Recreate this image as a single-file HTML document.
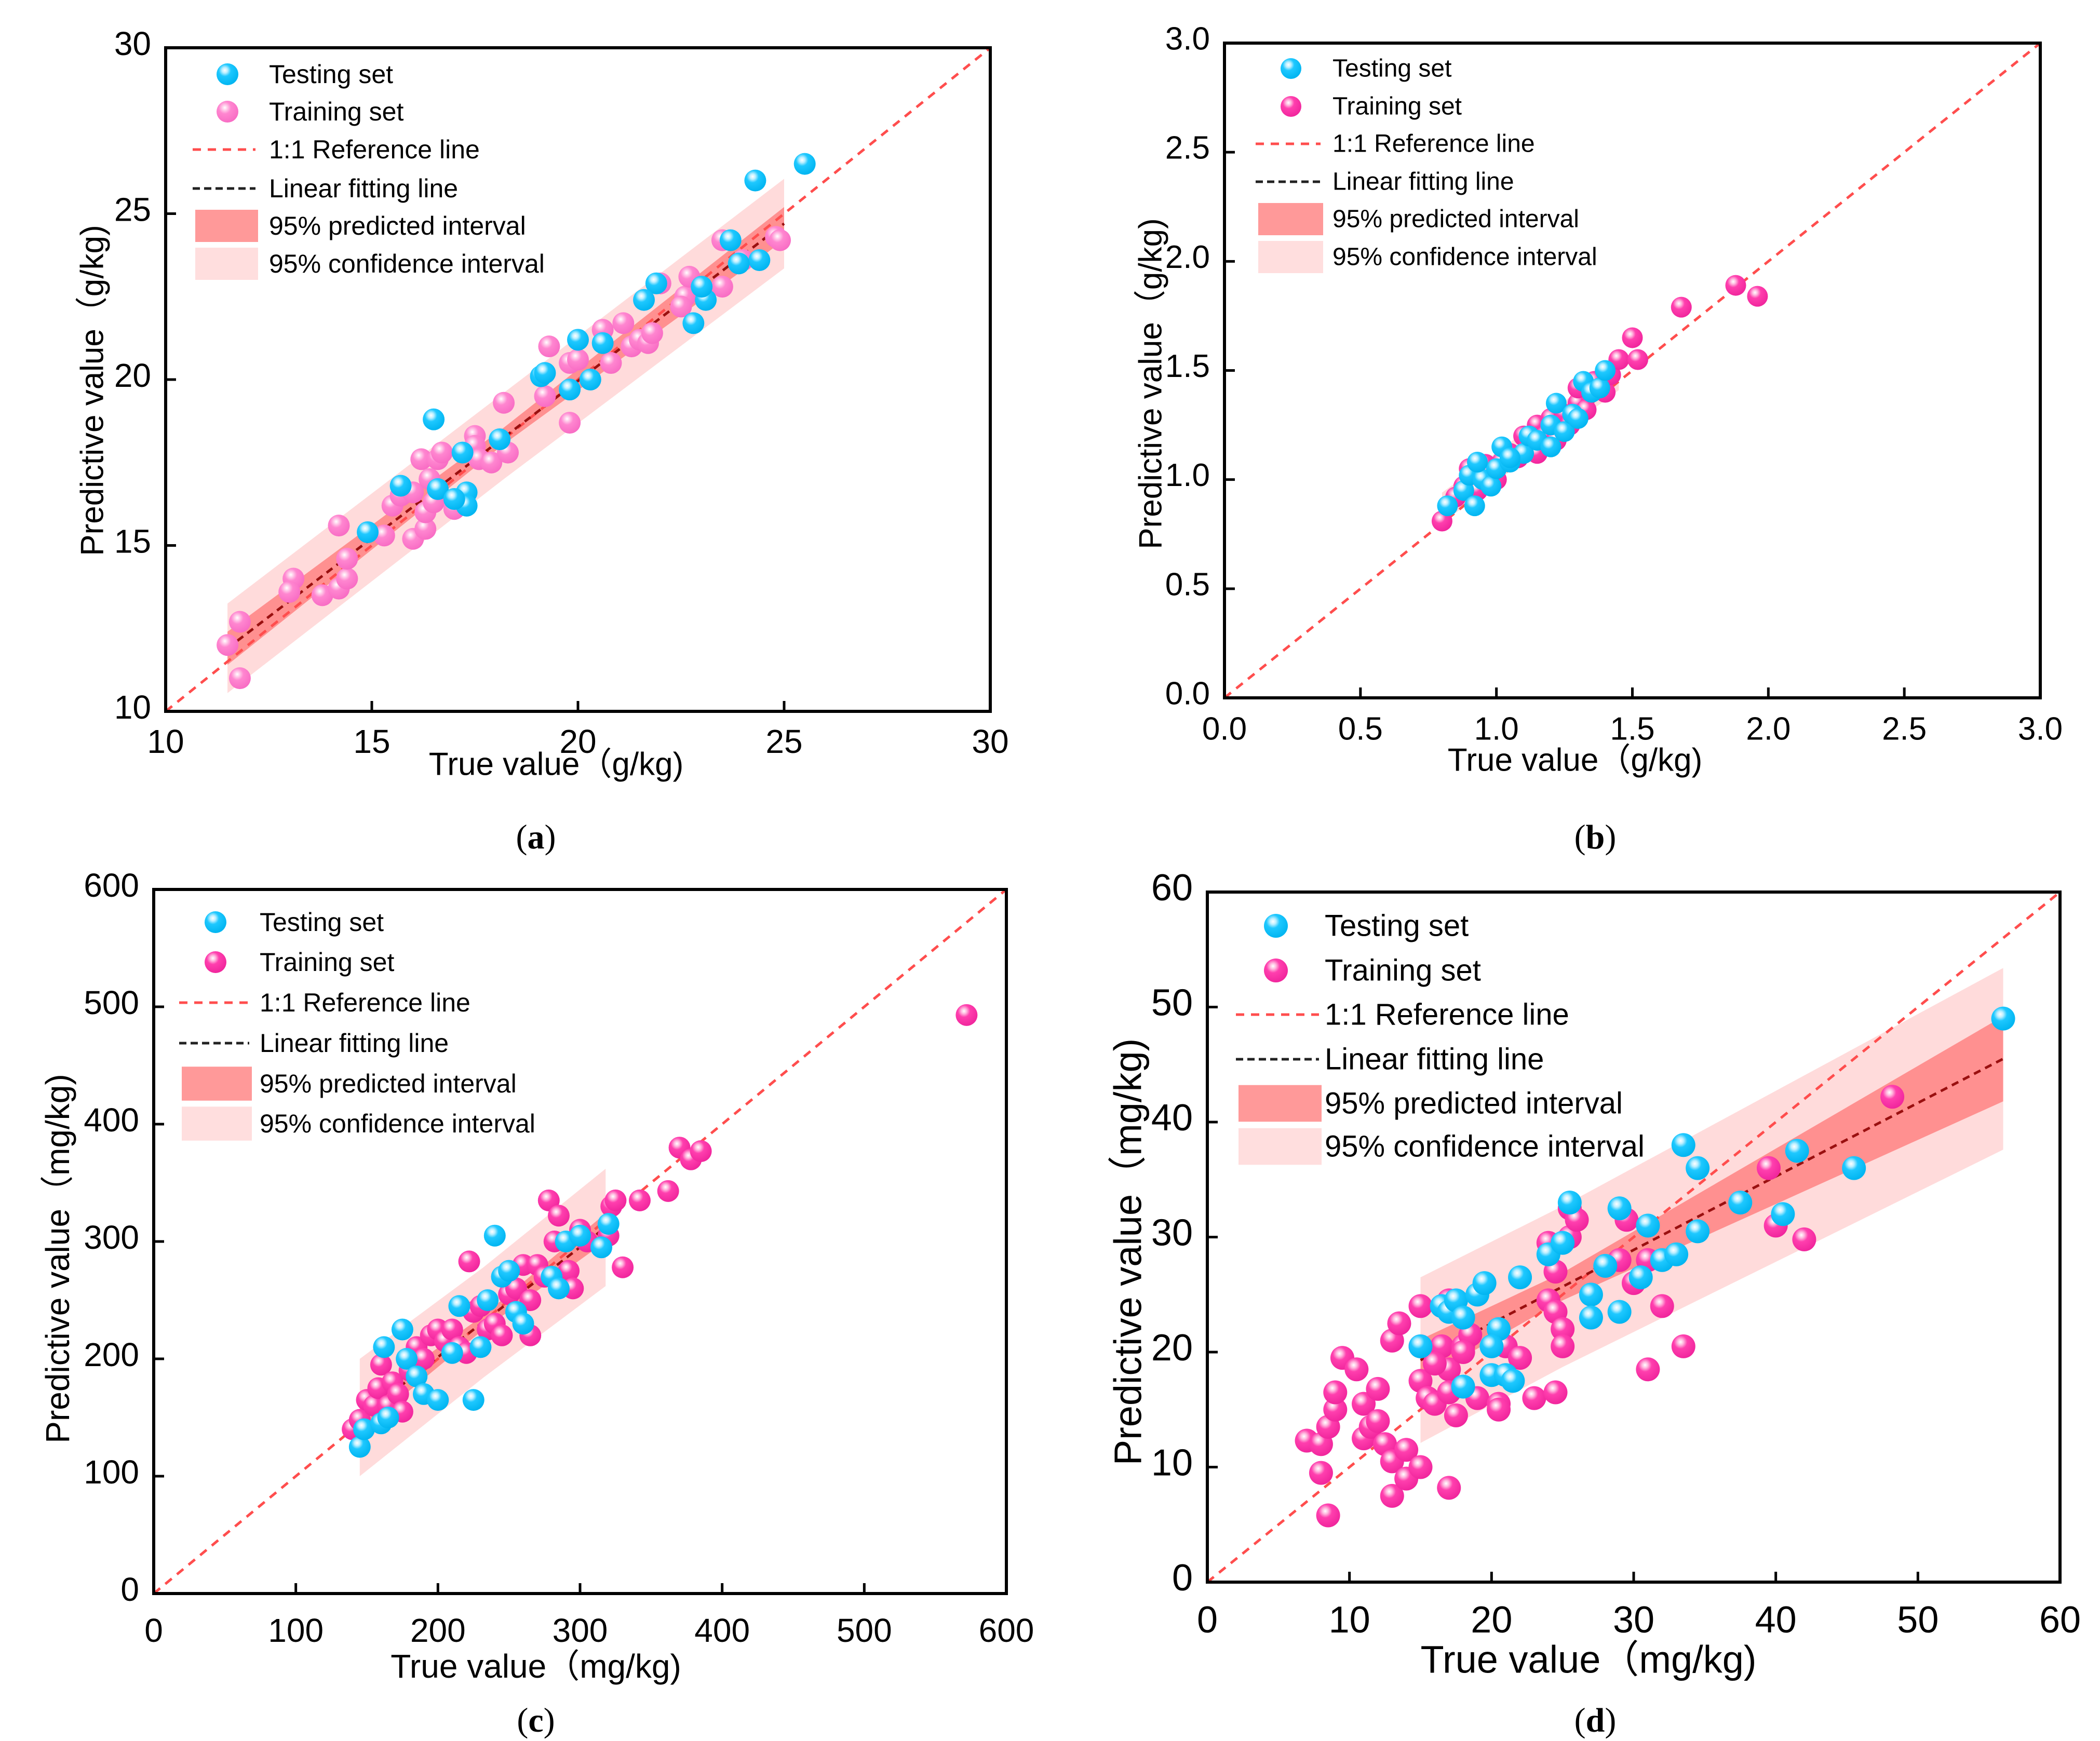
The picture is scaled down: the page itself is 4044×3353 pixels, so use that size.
<!DOCTYPE html>
<html><head><meta charset="utf-8">
<style>
html,body{margin:0;padding:0;background:#fff;}
svg{display:block;font-family:"Liberation Sans","Noto Sans CJK SC",sans-serif;}
</style></head>
<body>
<svg id="fig" width="4044" height="3353" viewBox="0 0 4044 3353" xmlns="http://www.w3.org/2000/svg">
<defs>
<radialGradient id="gBlue" cx="0.38" cy="0.32" r="0.7">
<stop offset="0" stop-color="#ffffff"/><stop offset="0.18" stop-color="#bdefff"/><stop offset="0.4" stop-color="#1ec8ff"/><stop offset="1" stop-color="#00b4f0"/></radialGradient>
<radialGradient id="gPinkL" cx="0.38" cy="0.32" r="0.7">
<stop offset="0" stop-color="#ffffff"/><stop offset="0.18" stop-color="#ffc8e8"/><stop offset="0.4" stop-color="#ff86d0"/><stop offset="1" stop-color="#f86cc4"/></radialGradient>
<radialGradient id="gPink" cx="0.38" cy="0.32" r="0.7">
<stop offset="0" stop-color="#ffffff"/><stop offset="0.18" stop-color="#ffb8de"/><stop offset="0.4" stop-color="#ff3fae"/><stop offset="1" stop-color="#f0259c"/></radialGradient>
</defs>
</svg>
<script>
// ---------- Panel (a) data ----------
const aTicks = [10, 15, 20, 25, 30];
const aTickLabels = ["10", "15", "20", "25", "30"];
const aTest = [[24.3,26.0],[25.5,26.5],[16.5,18.8],[23.7,24.2],[24.4,23.6],[23.9,23.5],[22.8,21.7],[23.1,22.4],[21.9,22.9],[21.6,22.4],[20,21.2],[19.1,20.1],[19.2,20.2],[19.8,19.7],[20.3,20],[18.1,18.2],[17.3,16.6],[17.3,16.2],[17.2,17.8],[15.7,16.8],[14.9,15.4],[16.6,16.7],[20.6,21.1],[23,22.8],[17,16.4]];
const aTrain = [[11.5,12],[11.8,12.7],[11.8,11],[13.1,14],[13,13.6],[13.8,13.5],[14.2,15.6],[14.2,13.7],[14.4,14],[14.4,14.6],[15.3,15.3],[15.5,16.2],[15.7,16.5],[16,16.6],[16.2,17.6],[16.6,17.6],[16.7,17.8],[16,15.2],[16.3,15.5],[16.3,16],[16.5,16.3],[16.4,17],[17,16.1],[17.5,18.3],[17.5,18],[17.6,17.6],[17.9,17.5],[18.2,19.3],[18.3,17.8],[19.2,19.5],[19.3,21],[19.8,18.7],[19.8,20.5],[20,20.6],[20.6,21.5],[20.8,20.5],[21.1,21.7],[21.3,21],[21.5,21.2],[21.7,21.1],[22,22.9],[21.8,21.4],[22.6,22.5],[22.7,23.1],[22.5,22.2],[23.5,24.2],[23.5,22.8],[24,23.6],[24.8,24.3],[24.9,24.2]];
const aBandX = [11.5, 18.2, 25];
const aFitY = [11.9, 18.3, 24.7];
const aInnerHalf = [0.5, 0.25, 0.5];
const aOuterHalf = [1.35, 1.3, 1.35];

// ---------- Panel (b) data ----------
const bTicks = [0, 0.5, 1.0, 1.5, 2.0, 2.5, 3.0];
const bTickLabels = ["0.0", "0.5", "1.0", "1.5", "2.0", "2.5", "3.0"];
const bTest = [[0.82,0.88],[0.88,0.95],[0.9,1.02],[0.92,0.88],[0.95,1.0],[0.98,0.97],[1.0,1.05],[1.02,1.15],[1.05,1.08],[1.1,1.12],[1.12,1.2],[1.15,1.18],[1.2,1.25],[1.2,1.15],[1.22,1.35],[1.25,1.22],[1.28,1.3],[1.3,1.28],[1.32,1.45],[1.35,1.4],[1.38,1.42],[1.4,1.5],[1.05,1.1],[0.93,1.08]];
const bTrain = [[0.8,0.81],[0.85,0.92],[0.88,0.97],[0.9,1.05],[0.93,0.95],[0.96,1.07],[1.0,1.0],[1.02,1.08],[1.05,1.12],[1.08,1.1],[1.1,1.2],[1.12,1.16],[1.15,1.25],[1.18,1.2],[1.2,1.28],[1.22,1.18],[1.25,1.3],[1.27,1.25],[1.3,1.35],[1.3,1.42],[1.33,1.32],[1.36,1.45],[1.4,1.4],[1.42,1.48],[1.45,1.55],[1.5,1.65],[1.52,1.55],[1.68,1.79],[1.88,1.89],[1.96,1.84],[1.15,1.12],[0.98,1.03]];
const bBandX = [0.8, 1.12, 1.45];
const bFitY = [0.87, 1.17, 1.48];
const bInnerHalf = [0.03, 0.015, 0.03];
const bOuterHalf = [0.07, 0.065, 0.07];

// ---------- Panel (c) data ----------
const cTicks = [0, 100, 200, 300, 400, 500, 600];
const cTickLabels = ["0", "100", "200", "300", "400", "500", "600"];
const cTest = [[145,125],[148,140],[160,145],[165,150],[162,210],[175,225],[178,200],[185,185],[190,170],[200,165],[215,245],[225,165],[230,210],[235,250],[240,305],[245,270],[250,275],[255,240],[260,230],[280,270],[285,260],[290,300],[300,305],[315,295],[320,315],[210,205]];
const cTrain = [[140,140],[145,148],[150,165],[155,160],[158,175],[160,195],[165,160],[168,180],[172,170],[175,155],[180,190],[185,210],[190,200],[195,220],[200,225],[205,215],[210,225],[215,210],[220,205],[222,283],[225,240],[230,245],[235,225],[240,230],[245,220],[250,255],[255,260],[260,280],[265,250],[265,220],[270,280],[275,270],[278,335],[282,300],[285,322],[290,265],[292,275],[295,260],[300,310],[305,300],[320,305],[322,330],[325,335],[330,278],[342,335],[362,343],[370,380],[378,370],[385,377],[572,493]];
const cBandX = [145, 232, 318];
const cFitY = [150, 231, 312];
const cInnerHalf = [12, 6, 12];
const cOuterHalf = [50, 47, 50];

// ---------- Panel (d) data ----------
const dTicks = [0, 10, 20, 30, 40, 50, 60];
const dTickLabels = ["0", "10", "20", "30", "40", "50", "60"];
const dTest = [[15,20.5],[16.5,24],[17,23.5],[17.5,24.5],[18,23],[19,25],[19.5,26],[20,18],[20.5,22],[21,18],[21.5,17.5],[22,26.5],[24,28.5],[25,29.5],[25.5,33],[27,25],[27,23],[28,27.5],[29,32.5],[29,23.5],[30.5,26.5],[31,31],[32,28],[33,28.5],[33.5,38],[34.5,36],[34.5,30.5],[37.5,33],[40.5,32],[41.5,37.5],[45.5,36],[56,49],[20,20.5],[18,17]];
const dTrain = [[7,12.3],[8,9.5],[8,12],[8.5,5.8],[8.5,13.5],[9,15],[9,16.5],[9.5,19.5],[10.5,18.5],[11,12.5],[11,15.5],[11.5,13.5],[12,16.8],[12,14],[12.5,12],[13,10.5],[13,7.5],[14,9],[14,11.5],[15,10],[13,21],[13.5,22.5],[15,24],[15,20.5],[15,17.5],[15.5,16],[16,20],[16,15.5],[16.5,20.5],[17,24.5],[17,18.5],[17,16.5],[17,8.2],[17.5,14.5],[18,20.5],[18.5,21.5],[19,16],[20.5,15.5],[20.5,15],[21,20.5],[22,19.5],[23,16],[24.5,16.5],[24,24.5],[24,29.5],[24.5,27],[24.5,23.5],[25,22],[25,20.5],[25.5,32.5],[25.5,30],[26,31.5],[29,28],[29.5,31.5],[30,26],[31,18.5],[31,28],[32,24],[33.5,20.5],[39.5,36],[40,31],[42,29.8],[48.2,42.2],[18,20],[16,19]];
const dBandX = [15, 25, 56];
const dFitY = [19.3, 25.7, 45.5];
const dInnerHalf = [1.8, 1.2, 3.7];
const dOuterHalf = [7.2, 7.0, 7.9];

const NS = "http://www.w3.org/2000/svg";
const svg = document.getElementById("fig");
function mk(tag, attrs, parent) {
  const e = document.createElementNS(NS, tag);
  for (const k in attrs) e.setAttribute(k, attrs[k]);
  (parent || svg).appendChild(e);
  return e;
}

function panel(p) {
  const g = mk("g", {});
  
  
  const [L, T, R, B] = p.box;
  const lo = p.ticks[0], hi = p.ticks[p.ticks.length - 1];
  const sx = v => L + (v - lo) / (hi - lo) * (R - L);
  const sy = v => B - (v - lo) / (hi - lo) * (B - T);

  // bands
  const outerPts = [], innerPts = [];
  const up = [], dn = [], iup = [], idn = [];
  for (let i = 0; i < p.bandX.length; i++) {
    up.push(sx(p.bandX[i]) + "," + sy(p.fitY[i] + p.outer[i]));
    dn.unshift(sx(p.bandX[i]) + "," + sy(p.fitY[i] - p.outer[i]));
    iup.push(sx(p.bandX[i]) + "," + sy(p.fitY[i] + p.inner[i]));
    idn.unshift(sx(p.bandX[i]) + "," + sy(p.fitY[i] - p.inner[i]));
  }
  const ob = mk("polygon", {points: up.concat(dn).join(" "), fill: "#ffd9d9", opacity: "0.95"}, g);
  
  
  const ib = mk("polygon", {points: iup.concat(idn).join(" "), fill: "#f77", opacity: "0.75"}, g);
  
  

  // 1:1 line
  const ref = mk("line", {x1: sx(lo), y1: sy(lo), x2: sx(hi), y2: sy(hi), stroke: "#ff4d4d", "stroke-width": 5, "stroke-dasharray": "16 13"}, g);
  
  
  // fit line
  const n = p.bandX.length - 1;
  const fit = mk("line", {x1: sx(p.bandX[0]), y1: sy(p.fitY[0]), x2: sx(p.bandX[n]), y2: sy(p.fitY[n]), stroke: "#9a1010", "stroke-width": 5, "stroke-dasharray": "14 10"}, g);
  
  

  // points
  for (const pt of p.train) {
    const c = mk("circle", {cx: sx(pt[0]), cy: sy(pt[1]), r: p.r, fill: "url(#" + p.pinkGrad + ")"}, g);
    
    
  }
  for (const pt of p.test) {
    const c = mk("circle", {cx: sx(pt[0]), cy: sy(pt[1]), r: p.r, fill: "url(#gBlue)"}, g);
    
    
  }

  // frame
  const fr = mk("rect", {x: L, y: T, width: R - L, height: B - T, fill: "none", stroke: "#000", "stroke-width": 6}, g);
  
  

  // ticks
  for (let i = 0; i < p.ticks.length; i++) {
    const v = p.ticks[i];
    const tx = mk("line", {x1: sx(v), y1: B, x2: sx(v), y2: B - 20, stroke: "#000", "stroke-width": 5}, g);
    
    
    const ty = mk("line", {x1: L, y1: sy(v), x2: L + 20, y2: sy(v), stroke: "#000", "stroke-width": 5}, g);
    
    
    const xl = mk("text", {x: sx(v), y: p.xLabelY, "font-size": p.tickFs, "text-anchor": "middle", "dominant-baseline": "central"}, g);
    xl.textContent = p.tickLabels[i];
    
    
    const yl = mk("text", {x: L - 28, y: sy(v) - 8, "font-size": p.tickFs, "text-anchor": "end", "dominant-baseline": "central"}, g);
    yl.textContent = p.tickLabels[i];
    
    
  }

  // axis titles
  const xt = mk("text", {x: p.xTitle[0], y: p.xTitle[1], "font-size": p.titleFs, "text-anchor": "middle", "dominant-baseline": "central"}, g);
  xt.textContent = "True value\uff08" + p.unit + ")";
  
  
  const yt = mk("text", {x: 0, y: 0, "font-size": p.titleFs, "text-anchor": "middle", "dominant-baseline": "central", transform: "translate(" + p.yTitle[0] + "," + p.yTitle[1] + ") rotate(-90)"}, g);
  yt.textContent = "Predictive value\uff08" + p.unit + ")";
  
  

  // legend
  const lg = p.legend;
  const rows = lg.rows;
  const labels = ["Testing set", "Training set", "1:1 Reference line", "Linear fitting line", "95% predicted interval", "95% confidence interval"];
  const lgG = mk("g", {}, g);
  
  
  const m1 = mk("circle", {cx: lg.mx, cy: rows[0], r: p.r, fill: "url(#gBlue)"}, lgG);
  
  
  const m2 = mk("circle", {cx: lg.mx, cy: rows[1], r: p.r, fill: "url(#" + p.pinkGrad + ")"}, lgG);
  
  
  const l1 = mk("line", {x1: lg.lx0, y1: rows[2], x2: lg.lx1, y2: rows[2], stroke: "#ff4d4d", "stroke-width": 5, "stroke-dasharray": "16 13"}, lgG);
  
  
  const l2 = mk("line", {x1: lg.lx0, y1: rows[3], x2: lg.lx1, y2: rows[3], stroke: "#222", "stroke-width": 5, "stroke-dasharray": "14 8"}, lgG);
  
  
  const ph = (rows[5] - rows[4]) * 0.85;
  const r1 = mk("rect", {x: lg.lx0 + 5, y: rows[4] - ph / 2, width: lg.lx1 - lg.lx0, height: ph, fill: "#f99"}, lgG);
  
  
  const r2 = mk("rect", {x: lg.lx0 + 5, y: rows[5] - ph / 2, width: lg.lx1 - lg.lx0, height: ph, fill: "#ffdede"}, lgG);
  
  
  for (let i = 0; i < 6; i++) {
    const t = mk("text", {x: lg.tx, y: rows[i], "font-size": lg.fs, "dominant-baseline": "central"}, lgG);
    t.textContent = labels[i];
    
    
  }

  // panel letter
  const pl = mk("text", {x: p.letter[0], y: p.letter[1], "font-size": 66, "text-anchor": "middle", "dominant-baseline": "central", "font-family": "Liberation Serif, serif"}, g);
  pl.innerHTML = "(<tspan font-weight='bold'>" + p.id + "</tspan>)";
  
  
}

panel({id: "a", box: [319, 92, 1907, 1370], ticks: aTicks, tickLabels: aTickLabels, test: aTest, train: aTrain,
  bandX: aBandX, fitY: aFitY, inner: aInnerHalf, outer: aOuterHalf, r: 21, pinkGrad: "gPinkL",
  tickFs: 64, titleFs: 62, xLabelY: 1428, xTitle: [1071, 1472], yTitle: [178, 752], unit: "g/kg",
  legend: {mx: 438, rows: [143, 215, 288, 363, 435, 508], tx: 518, lx0: 371, lx1: 492, fs: 50}, letter: [1032, 1612]});
panel({id: "b", box: [2358, 83, 3929, 1344], ticks: bTicks, tickLabels: bTickLabels, test: bTest, train: bTrain,
  bandX: bBandX, fitY: bFitY, inner: bInnerHalf, outer: bOuterHalf, r: 20, pinkGrad: "gPink",
  tickFs: 62, titleFs: 62, xLabelY: 1404, xTitle: [3033, 1464], yTitle: [2216, 739], unit: "g/kg",
  legend: {mx: 2486, rows: [132, 205, 277, 350, 422, 495], tx: 2566, lx0: 2418, lx1: 2543, fs: 48}, letter: [3072, 1612]});
panel({id: "c", box: [296, 1713, 1938, 3069], ticks: cTicks, tickLabels: cTickLabels, test: cTest, train: cTrain,
  bandX: cBandX, fitY: cFitY, inner: cInnerHalf, outer: cOuterHalf, r: 21, pinkGrad: "gPink",
  tickFs: 64, titleFs: 64, xLabelY: 3140, xTitle: [1032, 3209], yTitle: [111, 2424], unit: "mg/kg",
  legend: {mx: 415, rows: [1776, 1853, 1931, 2009, 2087, 2164], tx: 500, lx0: 345, lx1: 480, fs: 50}, letter: [1032, 3313]});
panel({id: "d", box: [2325, 1718, 3967, 3047], ticks: dTicks, tickLabels: dTickLabels, test: dTest, train: dTrain,
  bandX: dBandX, fitY: dFitY, inner: dInnerHalf, outer: dOuterHalf, r: 23, pinkGrad: "gPink",
  tickFs: 72, titleFs: 74, xLabelY: 3120, xTitle: [3059, 3196], yTitle: [2172, 2411], unit: "mg/kg",
  legend: {mx: 2457, rows: [1783, 1869, 1954, 2040, 2125, 2208], tx: 2551, lx0: 2380, lx1: 2540, fs: 58}, letter: [3072, 3313]});
</script>
</body></html>
